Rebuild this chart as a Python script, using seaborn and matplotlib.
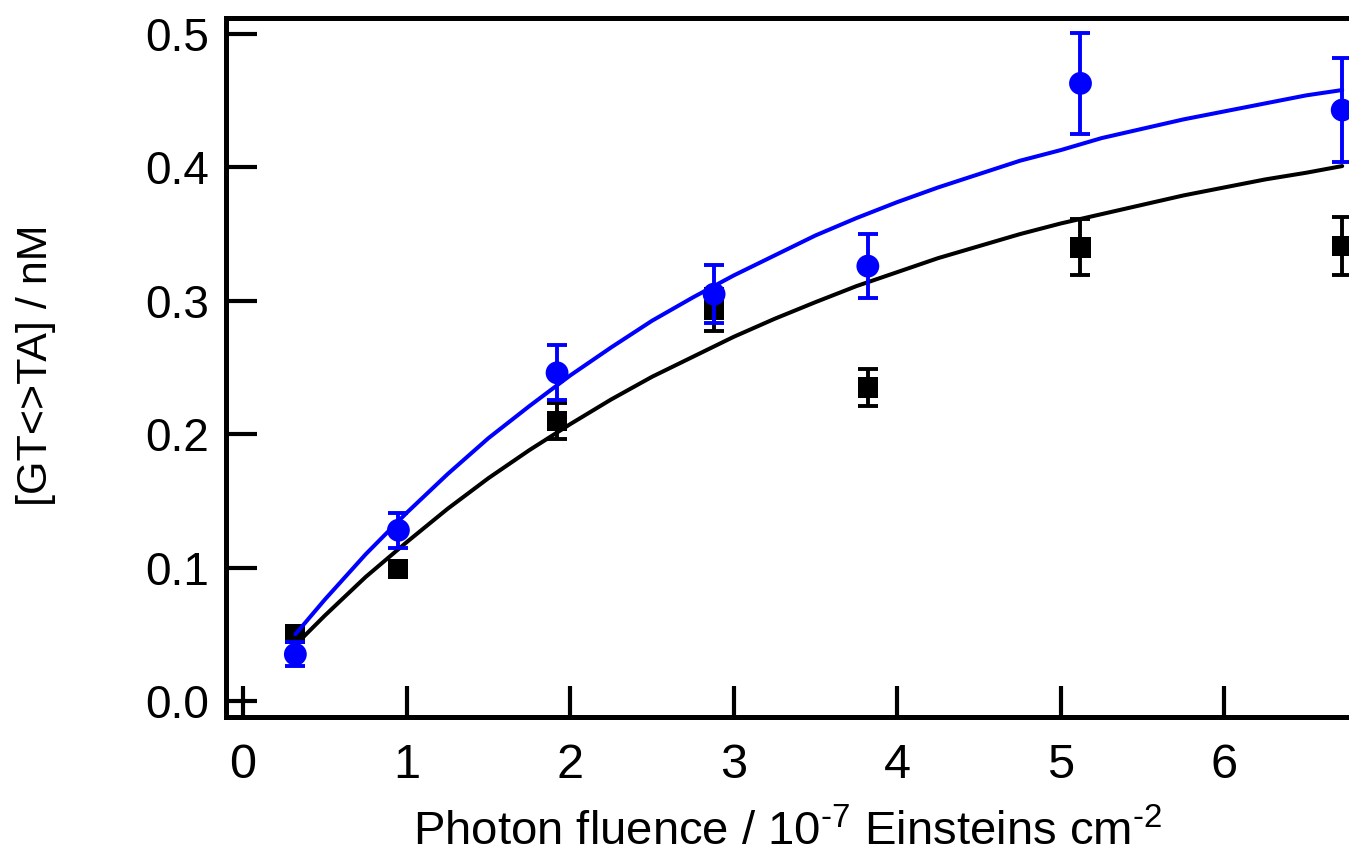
import numpy as np
import pandas as pd
import seaborn as sns
import matplotlib.pyplot as plt

# measured points (photon fluence in 1e-7 Einsteins cm^-2)
fluence = [0.32, 0.95, 1.92, 2.88, 3.82, 5.12, 6.72]
blue_conc = [0.035, 0.128, 0.246, 0.305, 0.326, 0.463, 0.443]
blue_err = [0.009, 0.013, 0.0205, 0.022, 0.024, 0.038, 0.039]
black_conc = [0.050, 0.099, 0.210, 0.293, 0.235, 0.340, 0.341]
black_err = [0.006, 0.006, 0.0135, 0.016, 0.014, 0.021, 0.022]

# fitted curves
fit_x = [0.32, 0.5, 0.75, 1.0, 1.25, 1.5, 1.75, 2.0, 2.25, 2.5, 2.75, 3.0, 3.25, 3.5,
         3.75, 4.0, 4.25, 4.5, 4.75, 5.0, 5.25, 5.5, 5.75, 6.0, 6.25, 6.5, 6.72]
blue_fit = [0.050, 0.076, 0.110, 0.141, 0.170, 0.197, 0.221, 0.244, 0.265, 0.285,
            0.3025, 0.319, 0.334, 0.349, 0.362, 0.374, 0.385, 0.395, 0.405, 0.413,
            0.422, 0.429, 0.436, 0.442, 0.448, 0.454, 0.458]
black_fit = [0.042, 0.064, 0.093, 0.119, 0.144, 0.167, 0.188, 0.2075, 0.226, 0.243,
             0.258, 0.273, 0.2865, 0.299, 0.311, 0.3215, 0.332, 0.341, 0.350, 0.358,
             0.365, 0.372, 0.379, 0.385, 0.391, 0.396, 0.401]

sns.set_theme(style='white')
plt.rcParams['font.family'] = ['Liberation Sans', 'DejaVu Sans']
plt.rcParams['mathtext.fontset'] = 'custom'
plt.rcParams['mathtext.rm'] = 'Liberation Sans'
plt.rcParams['mathtext.it'] = 'Liberation Sans'

W, H = 1349, 856
fig = plt.figure(figsize=(W / 100, H / 100), dpi=100)
ax_w = 1388 - 226
ax = fig.add_axes([226 / W, (H - 717) / H, ax_w / W, (717 - 18) / H])

fits = pd.DataFrame({'x': fit_x, 'blue': blue_fit, 'black': black_fit})
points = pd.DataFrame({'x': fluence, 'blue': blue_conc, 'black': black_conc})

# black series
ax.errorbar(fluence, black_conc, yerr=black_err, fmt='none', ecolor='black',
            elinewidth=2.8, capsize=7, capthick=2.8, zorder=2)
sns.scatterplot(data=points, x='x', y='black', marker='s', s=210, color='black',
                edgecolor='none', ax=ax, zorder=3)
sns.lineplot(data=fits, x='x', y='black', color='black', lw=2.9, ax=ax, zorder=4)

# blue series
ax.errorbar(fluence, blue_conc, yerr=blue_err, fmt='none', ecolor='#0000ff',
            elinewidth=2.8, capsize=7, capthick=2.8, zorder=5)
sns.scatterplot(data=points, x='x', y='blue', marker='o', s=270, color='#0000ff',
                edgecolor='none', ax=ax, zorder=6)
sns.lineplot(data=fits, x='x', y='blue', color='#0000ff', lw=2.9, ax=ax, zorder=7)

ax.set_xlim(-0.104, 7.0)
ax.set_ylim(-0.012, 0.512)
ax.set_xticks(range(0, 7))
ax.set_yticks([0.0, 0.1, 0.2, 0.3, 0.4, 0.5])
ax.set_yticklabels(['0.0', '0.1', '0.2', '0.3', '0.4', '0.5'])

for side in ['left', 'bottom', 'top', 'right']:
    ax.spines[side].set_linewidth(3.6)
    ax.spines[side].set_color('black')
ax.spines['right'].set_visible(False)

ax.tick_params(axis='both', direction='in', length=22, width=3.0, color='black',
               labelcolor='black')
ax.tick_params(axis='x', pad=19, labelsize=35)
ax.tick_params(axis='y', pad=12, labelsize=33)
ax.tick_params(left=True, bottom=True)

ax.set_xlabel('Photon fluence / 10$^{\\text{-}7}$ Einsteins cm$^{\\text{-}2}$',
              fontsize=34, va='baseline', color='black')
ax.set_ylabel('[GT<>TA] / nM', fontsize=31, color='black')
ax.xaxis.set_label_coords((788 - 226) / ax_w, (717 - 845) / 699)
ax.yaxis.set_label_coords((56 - 226) / ax_w, (717 - 365) / 699)

fig.savefig('out.png', dpi=100)
